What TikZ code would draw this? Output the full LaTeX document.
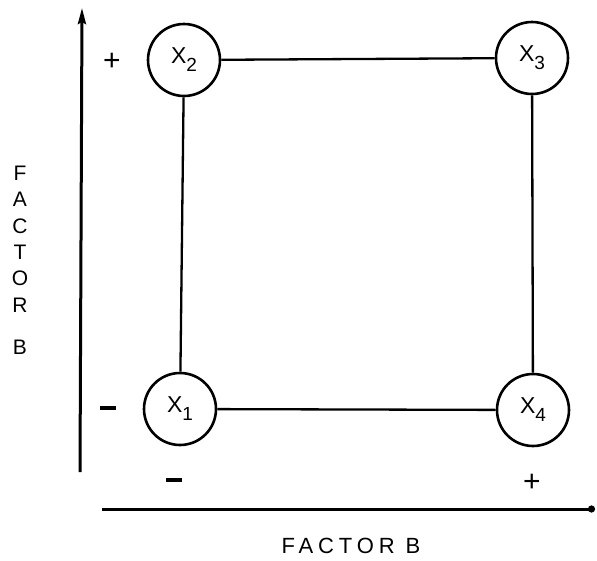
\documentclass[tikz,border=0pt]{standalone}
\usepackage{fontspec}
\setmainfont{Liberation Sans}
\usetikzlibrary{arrows.meta}
\newcommand{\sublbl}[1]{\raisebox{-8pt}{\fontsize{19}{19}\selectfont #1}}
\begin{document}
\begin{tikzpicture}[x=1pt,y=-1pt,
  state/.style={draw,circle,line width=2.6pt,minimum size=72pt,inner sep=0pt,font=\fontsize{23}{24}\selectfont},
  link/.style={line width=2.3pt},
  axis/.style={line width=3pt},
  sign/.style={font=\fontsize{30}{30}\selectfont,inner sep=0pt},
  lbl/.style={font=\fontsize{22}{24}\selectfont\addfontfeatures{LetterSpace=22}}]
\useasboundingbox (0,0) rectangle (597,560);
\node[state] (x2) at (184,60) {X\sublbl{2}};
\node[state] (x3) at (532,58) {X\sublbl{3}};
\node[state] (x1) at (180,409) {X\sublbl{1}};
\node[state] (x4) at (533,410) {X\sublbl{4}};
\draw[link] (x2) -- (x3);
\draw[link] (x1) -- (x4);
\draw[link] (x2) -- (x1);
\draw[link] (x3) -- (x4);
\coordinate (v0) at (80,472);
\coordinate (v1) at (82,8);
\coordinate (h0) at (102,509);
\coordinate (h1) at (595,509);
\draw[axis,-{Stealth[length=16pt,width=8pt,inset=2pt]}] (v0) -- (v1);
\draw[axis,-{Circle[length=7pt]}] (h0) -- (h1);
\node[sign] (p1) at (112,62) {+};
\node[inner sep=0pt] (m1) at (108,408) {\rule{16pt}{3.5pt}};
\node[inner sep=0pt] (m2) at (174,480) {\rule{16pt}{3.5pt}};
\node[sign] (p2) at (532,483) {+};
\node[lbl] (fb) at (351,546) {FACTOR B};
\node[align=center,inner sep=0pt,font=\fontsize{21}{26.4}\selectfont] (fa) at (20,260) {F\\A\\C\\T\\O\\R\\[15.6pt]B};
\end{tikzpicture}
\end{document}
